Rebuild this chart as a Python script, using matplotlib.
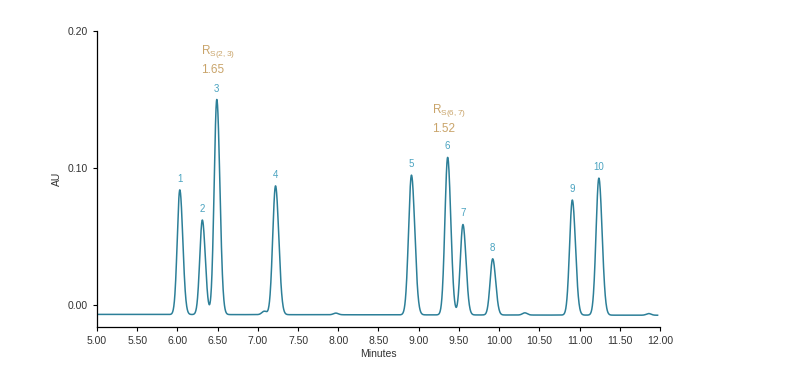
import numpy as np
from matplotlib import pyplot as plt

plt.rcParams['font.family'] = ['Liberation Sans', 'DejaVu Sans']
plt.rcParams['mathtext.default'] = 'regular'

# peak table
peak_labels = ['1', '2', '3', '4', '5', '6', '7', '8', '9', '10']
peak_times = [6.03, 6.31, 6.49, 7.22, 8.91, 9.36, 9.55, 9.92, 10.91, 11.24]
peak_heights = [0.091, 0.069, 0.157, 0.094, 0.102, 0.115, 0.066, 0.041, 0.084, 0.100]
peak_widths = [0.032, 0.032, 0.033, 0.035, 0.036, 0.034, 0.033, 0.032, 0.034, 0.035]

# small baseline bumps
bump_times = [7.08, 7.97, 10.32, 11.86]
bump_heights = [0.0025, 0.0012, 0.0016, 0.0012]

baseline = -0.0068
t_start, t_end = 5.0, 11.97

resolution_text = ['R$_{S(2,3)}$\n1.65', 'R$_{S(6,7)}$\n1.52']
resolution_pos = [(6.29, 0.167), (9.17, 0.124)]

line_color = '#2c7f98'
label_color = '#4aa3c0'
res_color = '#c9a46a'

t = np.linspace(t_start, t_end, 3000)
signal = np.full_like(t, baseline)
for tr, h, w in zip(peak_times, peak_heights, peak_widths):
    # slight tailing: wider on the right side
    sig = np.where(t < tr, w, w * 1.15)
    signal += h * np.exp(-0.5 * ((t - tr) / sig) ** 2)
for tr, h in zip(bump_times, bump_heights):
    signal += h * np.exp(-0.5 * ((t - tr) / 0.03) ** 2)
signal -= 0.0006 * (t - t_start) / (t_end - t_start)

fig = plt.figure(figsize=(7.89, 3.79), dpi=100)
ax = fig.add_axes([0.1229, 0.1372, 0.7136, 0.7808])
ax.plot(t, signal, color=line_color, lw=1.1)

for lab, tr, h in zip(peak_labels, peak_times, peak_heights):
    ax.text(tr, baseline + h + 0.004, lab, color=label_color, fontsize=7,
            ha='center', va='bottom')

for txt, (x, y) in zip(resolution_text, resolution_pos):
    ax.text(x, y, txt, color=res_color, fontsize=8.5, ha='left', va='bottom',
            linespacing=1.5)

ax.set_xlim(5.0, 12.0)
ax.set_ylim(-0.016, 0.20)
ax.set_xticks(np.arange(5.0, 12.01, 0.5))
ax.set_xticklabels(['%.2f' % v for v in np.arange(5.0, 12.01, 0.5)])
ax.set_yticks([0.0, 0.10, 0.20])
ax.set_yticklabels(['0.00', '0.10', '0.20'])
ax.tick_params(labelsize=7.5, length=3, width=0.8, direction='out',
               labelcolor='#333333')
ax.set_xlabel('Minutes', fontsize=7.5, labelpad=2, color='#333333')
ax.set_ylabel('AU', fontsize=7.5, labelpad=4, color='#333333')
for s in ['top', 'right']:
    ax.spines[s].set_visible(False)
for s in ['left', 'bottom']:
    ax.spines[s].set_linewidth(0.9)

plt.savefig('out.png', dpi=100)
